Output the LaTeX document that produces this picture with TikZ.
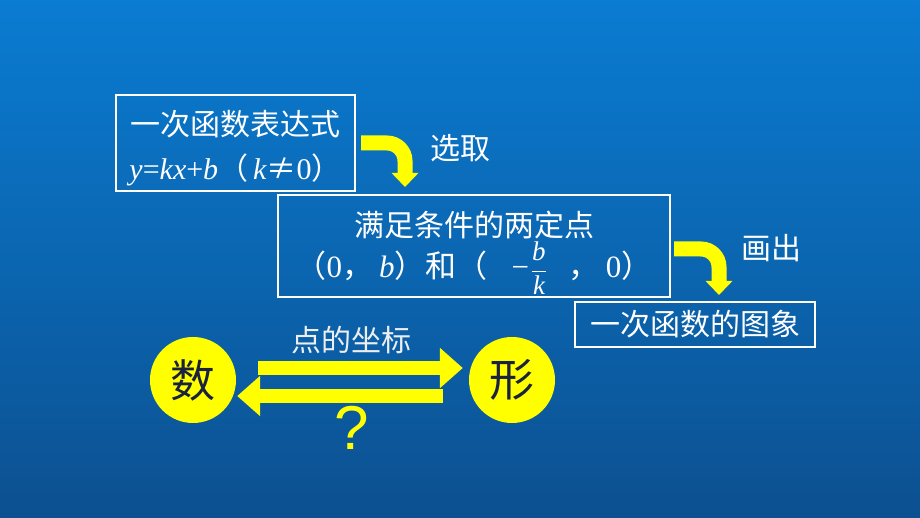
\documentclass[tikz,border=0pt]{standalone}
\usepackage{fontspec}
\usetikzlibrary{arrows.meta}
\usetikzlibrary{calc}
\setmainfont{Liberation Serif}
\newfontfamily\cjk{Noto Sans CJK SC}
\newfontfamily\tms{Liberation Serif}
\newfontfamily\arl{Liberation Sans}
\definecolor{bgtop}{RGB}{10,124,210}
\definecolor{bgbot}{RGB}{12,80,144}
\definecolor{hiyellow}{RGB}{255,255,0}
\definecolor{inkdark}{RGB}{26,34,64}
\definecolor{softwhite}{RGB}{236,238,240}
\newcommand\cn[1]{{\cjk #1}}
\newcommand\vi[1]{{\tms\itshape #1}}

\begin{document}
\begin{tikzpicture}[
    x=1pt, y=1pt,
    framebox/.style={
      draw=white, line width=2.4pt, inner sep=0pt
    },
    boxtext/.style={
      text=white, inner sep=0pt, font=\fontsize{30}{30}\selectfont
    },
    bentarrow/.style={
      draw=hiyellow, line width=15pt, rounded corners=18pt,
      -{Triangle[width=26pt,length=14pt]}
    },
    fatarrow/.style={
      draw=hiyellow, line width=14.5pt,
      -{Triangle[width=39pt,length=23pt]}
    },
    ball/.style={
      circle, fill=hiyellow, minimum size=86pt, inner sep=0pt,
      text=inkdark, font=\cjk\fontsize{45}{45}\selectfont
    },
    tag/.style={
      text=white, font=\cjk\fontsize{30}{30}\selectfont
    }
  ]
    % background
    \shade[top color=bgtop, bottom color=bgbot] (0,0) rectangle (920,518);
    \useasboundingbox (0,0) rectangle (920,518);

    % boxes
    \node[framebox, minimum width=239pt, minimum height=96pt] (form) at (235.5,375) {};
    \node[boxtext] (formA) at ([yshift=19]form.center) {\cn{一次函数表达式}};
    \node[boxtext] (formB) at ([yshift=-27]form.center)
      {\vi{y}=\vi{kx}+\vi{b}\cn{（}\hspace{5pt}\vi{k}\cn{≠}0\cn{）}};

    \node[framebox, minimum width=392pt, minimum height=102pt] (points) at (474,272) {};
    \node[boxtext] (pointsA) at ([yshift=21]points.center) {\cn{满足条件的两定点}};
    \node[boxtext] (pointsB) at ([yshift=-22]points.center)
      {\fontsize{31}{31}\selectfont\cn{（}0\cn{，}\hspace{6pt}\vi{b}\cn{）和（}\hspace{24pt}−\hspace{2pt}%
       $\displaystyle\frac{\mbox{\fontsize{27}{27}\selectfont\vi{b}}}{\mbox{\fontsize{27}{27}\selectfont\vi{k}}}$%
       \hspace{22pt}\cn{，}\hspace{6pt}0\cn{）}};

    \node[framebox, minimum width=240pt, minimum height=45pt] (graph) at (695,193.5) {};
    \node[boxtext] (graphA) at (graph.center) {\cn{一次函数的图象}};

    \coordinate (tipA) at (405,331);
    \coordinate (tipB) at (719,223);
    \draw[bentarrow] ([xshift=5pt]form.east) -| (tipA);
    \draw[bentarrow] ([xshift=3pt,yshift=-3pt]points.east) -| (tipB);
    \node[tag] (pick) at (460,370) {选取};
    \node[tag] (plot) at (771,270) {画出};

    % number and shape
    \node[ball] (shu) at (193,138) {数};
    \node[ball] (xing) at (512,138) {形};
    \draw[fatarrow] ([shift={(22,12)}]shu.east) -- ([shift={(-6,12)}]xing.west);
    \draw[fatarrow] ([shift={(-26,-16)}]xing.west) -- ([shift={(1,-16)}]shu.east);
    \node[tag, text=softwhite] (coord) at (351,178) {点的坐标};
    \node[text=hiyellow, font=\arl\fontsize{62}{62}\selectfont] (ask) at (352,90) {?};
\end{tikzpicture}
\end{document}
